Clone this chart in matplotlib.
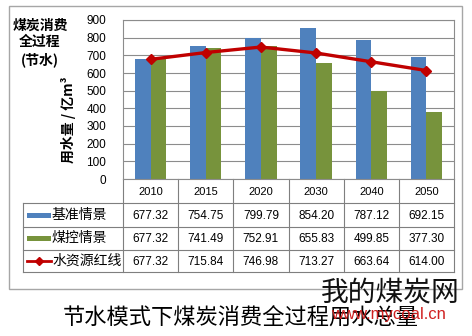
import matplotlib.pyplot as plt
from matplotlib.patches import Rectangle
import numpy as np

plt.rcParams["font.family"] = ["Noto Sans CJK SC", "DejaVu Sans"]
plt.rcParams["axes.unicode_minus"] = False

years = ["2010", "2015", "2020", "2030", "2040", "2050"]
base = [677.32, 754.75, 799.79, 854.20, 787.12, 692.15]     # 基准情景
ctrl = [677.32, 741.49, 752.91, 655.83, 499.85, 377.30]     # 煤控情景
redline = [677.32, 715.84, 746.98, 713.27, 663.64, 614.00]  # 水资源红线
names = ["基准情景", "煤控情景", "水资源红线"]
yticks = [0, 100, 200, 300, 400, 500, 600, 700, 800, 900]

c_blue = "#4F81BD"
c_green = "#77933C"
c_red = "#C00000"
c_grid = "#8C8C8C"

W, H = 472, 336
fig = plt.figure(figsize=(W / 100, H / 100), dpi=100)

# 像素坐标的覆盖层,画外框、表格和文字
ov = fig.add_axes([0, 0, 1, 1], zorder=0)
ov.set_xlim(0, W)
ov.set_ylim(H, 0)
ov.axis("off")

L, R, T, B = 123, 454, 20, 179
ax = fig.add_axes([L / W, 1 - B / H, (R - L) / W, (B - T) / H], zorder=1)
ax.patch.set_alpha(0)

x = np.arange(len(years))
bw = 0.285
ax.bar(x - bw / 2, base, bw, color=c_blue, zorder=2)
ax.bar(x + bw / 2, ctrl, bw, color=c_green, zorder=2)
ax.plot(x, redline, color=c_red, lw=2.4, marker="D", ms=5.5, zorder=3)

ax.set_xlim(-0.5, len(years) - 0.5)
ax.set_ylim(0, 900)
ax.set_yticks(yticks)
ax.set_yticklabels([str(v) for v in yticks], fontsize=8.5, family="Liberation Sans")
ax.set_xticks([])
ax.tick_params(axis="y", length=0, pad=12)
ax.yaxis.grid(True, color=c_grid, lw=0.8)
ax.set_axisbelow(True)
for s in ax.spines.values():
    s.set_color(c_grid)
    s.set_linewidth(0.8)

# 外框
ov.add_patch(Rectangle((9, 6), 453, 283, fill=False, ec="#A6A6A6", lw=1.0))

# 左上标题与纵轴标题
ov.text(40, 43, "煤炭消费\n全过程\n(节水)", ha="center", va="center",
        fontsize=10, fontweight="bold", linespacing=1.25)
ov.text(69, 120, "用水量 / 亿m³", ha="center", va="center", rotation=90,
        fontsize=10, fontweight="bold")

# 表格
cw = (R - L) / len(years)
rows = [179, 203, 226.5, 249.5, 272]
tc = "#7F7F7F"
for i in range(len(years) + 1):
    ov.plot([L + i * cw] * 2, [rows[0], rows[-1]], color=tc, lw=0.8)
ov.plot([23, 23], [rows[1], rows[-1]], color=tc, lw=0.8)
for j in range(1, len(rows)):
    ov.plot([23, R], [rows[j]] * 2, color=tc, lw=0.8)
for i, yr in enumerate(years):
    ov.text(L + (i + 0.5) * cw, (rows[0] + rows[1]) / 2 + 1, yr, ha="center",
            va="center", fontsize=8, family="Liberation Sans")

series = [base, ctrl, redline]
for j, vals in enumerate(series):
    yc = (rows[j + 1] + rows[j + 2]) / 2
    for i, v in enumerate(vals):
        ov.text(L + (i + 0.5) * cw, yc + 1, "%.2f" % v, ha="center", va="center",
                fontsize=8.5, family="Liberation Sans")
    ov.text(52, yc, names[j], ha="left", va="center", fontsize=10)

# 图例符号
ov.add_patch(Rectangle((27, 212.5), 24, 5, color=c_blue, lw=0))
ov.add_patch(Rectangle((27, 235.5), 24, 5, color=c_green, lw=0))
ov.plot([27, 51], [260.5, 260.5], color=c_red, lw=2)
ov.plot([39], [260.5], marker="D", color=c_red, ms=4)

# 图题
ov.text(241, 318, "节水模式下煤炭消费全过程用水总量", ha="center", va="center",
        fontsize=16)

# 水印
ov.text(390, 292, "我的煤炭网", ha="center", va="center", fontsize=20, color="#111111")
ov.text(388, 314, "www.mycoal.cn", ha="center", va="center", fontsize=12,
        color="#D02020", family="Liberation Sans")

fig.savefig("out.png", dpi=100)
